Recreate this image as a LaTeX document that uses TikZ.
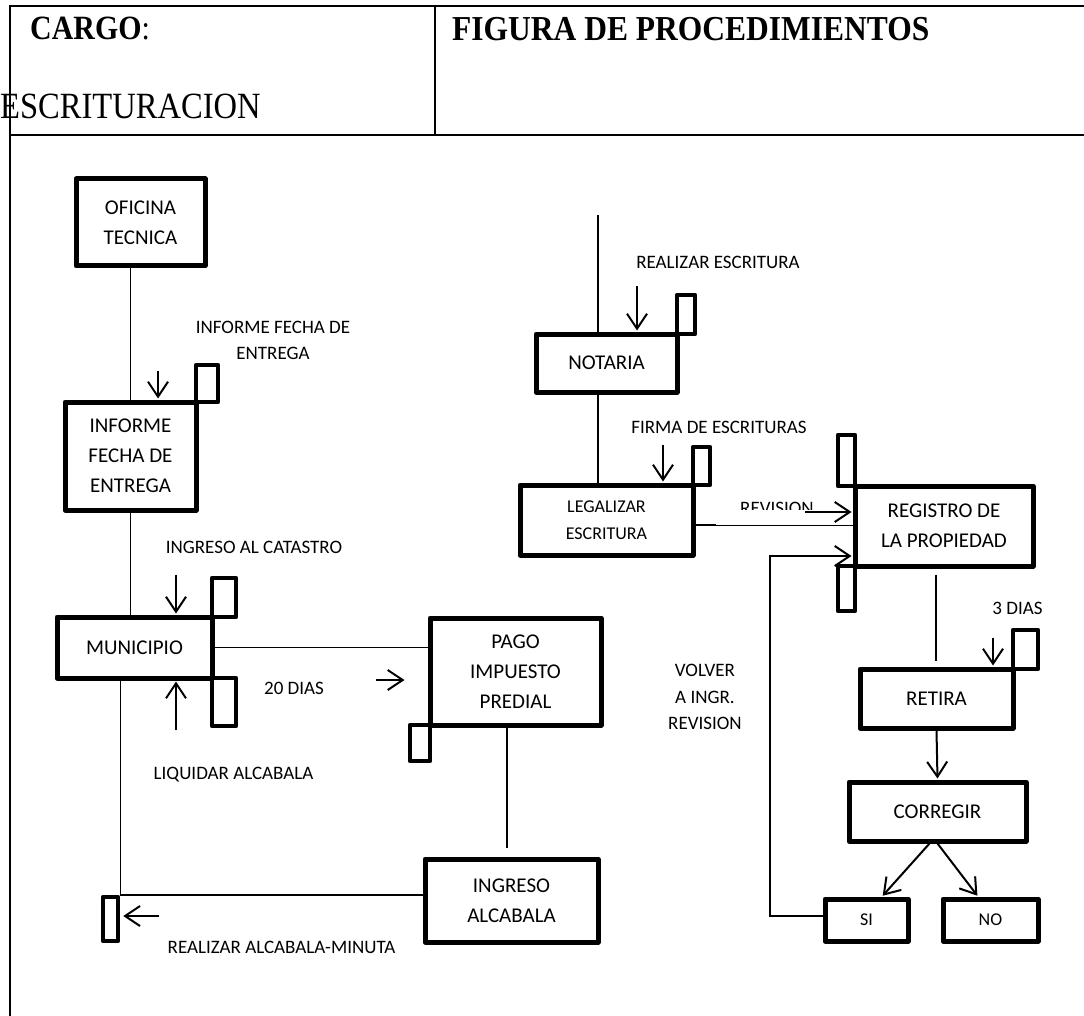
\documentclass[tikz,border=0pt]{standalone}
\usepackage{fontspec}
\setmainfont{Carlito}
\newfontfamily\hdrfont{Liberation Serif}
\usetikzlibrary{arrows.meta,calc}

\begin{document}
\begin{tikzpicture}[x=1pt,y=-1pt,
  box/.style={draw, line width=5pt, line join=round, inner sep=0pt, align=center,
              font=\fontsize{21}{30}\selectfont},
  smallbox/.style={box, font=\fontsize{18}{27}\selectfont},
  tab/.style={draw, line width=4.5pt, line join=round, inner sep=0pt},
  lbl/.style={align=center, inner sep=0pt, font=\fontsize{19}{26.5}\selectfont},
  hdr/.style={anchor=base west, inner sep=0pt},
  wire/.style={line width=1.5pt},
  frame/.style={line width=2.2pt},
  arr/.style={line width=2pt, shorten >=1pt, -{Straight Barb[length=15pt,width=20pt,line width=2pt]}},
]
\useasboundingbox (0,0) rectangle (1084,1016);

% page frame and header
\draw[frame] (10,1016) -- (10,6) -- (1084,6);
\draw[frame] (10,135) -- (1084,135);
\draw[frame] (435,6) -- (435,135);

\node[hdr] (cargo) at (30,40)
  {\hdrfont\fontsize{34}{34}\selectfont\scalebox{0.88}[1]{\textbf{CARGO}:}};
\node[hdr] (esc) at (0,119)
  {\hdrfont\fontsize{37}{37}\selectfont\scalebox{0.88}[1]{ESCRITURACION}};
\node[hdr] (fig) at (452,41)
  {\hdrfont\bfseries\fontsize{35}{35}\selectfont\scalebox{0.9}[1]{FIGURA DE PROCEDIMIENTOS}};

% process boxes
\node[box, minimum width=129pt, minimum height=87pt]  (ofi)    at (140.5,222.5) {OFICINA\\TECNICA};
\node[box, minimum width=131pt, minimum height=108pt] (inf)    at (130.5,456)   {INFORME\\FECHA DE\\ENTREGA};
\node[box, minimum width=155pt, minimum height=61pt]  (mun)    at (134.5,647.5) {MUNICIPIO};
\node[box, minimum width=171pt, minimum height=107pt] (pago)   at (515.5,671.5) {PAGO\\IMPUESTO\\PREDIAL};
\node[box, minimum width=173pt, minimum height=83pt]  (ingalc) at (511.5,900.5) {INGRESO\\ALCABALA};
\node[box, minimum width=141pt, minimum height=58pt]  (nota)   at (606.5,363)   {NOTARIA};
\node[smallbox, minimum width=173pt, minimum height=70pt] (legal) at (606.5,520) {LEGALIZAR\\ESCRITURA};
\node[box, minimum width=178pt, minimum height=80pt]  (reg)    at (944,526)     {REGISTRO DE\\LA PROPIEDAD};
\node[box, minimum width=153pt, minimum height=59pt]  (ret)    at (936.5,698.5) {RETIRA};
\node[box, minimum width=177pt, minimum height=59pt]  (corr)   at (937.5,811.5) {CORREGIR};
\node[smallbox, minimum width=83pt, minimum height=42pt] (si)  at (866.5,920)   {SI};
\node[smallbox, minimum width=95pt, minimum height=42pt] (no)  at (990.5,920)   {NO};

% small tabs on the boxes
\node[tab, minimum width=22pt, minimum height=37pt] (t1)  at (207,383.5) {};
\node[tab, minimum width=24pt, minimum height=39pt] (t2)  at (224,597.5) {};
\node[tab, minimum width=24pt, minimum height=48pt] (t3)  at (224,702)   {};
\node[tab, minimum width=20pt, minimum height=36pt] (t4)  at (420,743)   {};
\node[tab, minimum width=15pt, minimum height=44pt] (t5)  at (110.5,919) {};
\node[tab, minimum width=18pt, minimum height=39pt] (t6)  at (686,314.5) {};
\node[tab, minimum width=17pt, minimum height=38pt] (t7)  at (701.5,466) {};
\node[tab, minimum width=17pt, minimum height=51pt] (t8)  at (846.5,460.5) {};
\node[tab, minimum width=17pt, minimum height=45pt] (t9)  at (846.5,588.5) {};
\node[tab, minimum width=25pt, minimum height=39pt] (t10) at (1025.5,649.5) {};

% connecting lines
\draw[wire] (inf.north) -- (inf.north |- ofi.south);
\draw[wire] (inf.south) -- (inf.south |- mun.north);
\draw[wire] (mun.east) -- (mun.east -| pago.west);
\draw[wire] (t5.north east |- mun.south) -- (t5.north east) -- (t5.north east -| ingalc.west);
\draw[wire, shorten >=9pt] ([xshift=-8.5pt]pago.south) -- ([xshift=-8.5pt]pago.south |- ingalc.north);
\coordinate (ntop) at (598,215);
\draw[wire] (ntop) -- (ntop |- nota.north);
\draw[wire] (ntop |- nota.south) -- (ntop |- legal.north);
\draw[line width=1pt] ([yshift=-5pt]legal.east) -- ([yshift=-5pt]legal.east -| reg.west);
\draw[line width=2pt] ([yshift=-5pt]legal.east) -- ++(20,0);
\draw[wire, shorten <=6pt, shorten >=6pt] ([xshift=-8pt]reg.south) -- ([xshift=-8pt]reg.south |- ret.north);
\coordinate (back) at (770,0);
\draw[arr, line width=1.5pt] ([yshift=4pt]si.west) -- ([yshift=4pt]si.west -| back) |- ([yshift=-30pt]reg.west);

% flow arrows
\draw[arr] ($(inf.north)+(27.5,-29)$) -- ([xshift=27.5pt]inf.north);
\draw[arr] ($(mun.north)+(41.5,-40)$) -- ([xshift=41.5pt]mun.north);
\draw[arr] ($(mun.south)+(41.5,49)$) -- ([xshift=41.5pt]mun.south);
\draw[arr] ($(pago.west)+(-52,8.5)$) -- ($(pago.west)+(-22,8.5)$);
\draw[arr] ($(t5.east)+(39,-3)$) -- ($(t5.east)+(2,-3)$);
\draw[arr] ($(nota.north)+(30.5,-45)$) -- ([xshift=30.5pt]nota.north);
\draw[arr] ($(legal.north)+(56.5,-38)$) -- ([xshift=56.5pt]legal.north);
\draw[arr] ([yshift=14pt]reg.west) ++(-48,0) -- ([yshift=14pt]reg.west);
\draw[arr] ($(ret.north)+(56.5,-29)$) -- ([xshift=56.5pt]ret.north);
\draw[arr] (ret.south) -- (corr.north);
\draw[arr] ([xshift=-8pt]corr.south) -- ([xshift=15.5pt]si.north);
\draw[arr] (corr.south) -- ([xshift=-12.5pt]no.north);

% flow labels
\node[lbl] (l1) at (273,340.5) {INFORME FECHA DE\\ENTREGA};
\node[lbl] (l2) at (254,547) {INGRESO AL CATASTRO};
\node[lbl] (l3) at (294,688) {20 DIAS};
\node[lbl] (l4) at (233.5,775) {LIQUIDAR ALCABALA};
\node[lbl] (l5) at (281.5,947) {REALIZAR ALCABALA-MINUTA};
\node[lbl] (l6) at (718,262) {REALIZAR ESCRITURA};
\node[lbl] (l7) at (719,427) {FIRMA DE ESCRITURAS};
\node[lbl] (l8) at (1017.5,608) {3 DIAS};
\node[lbl] (l9) at (705,697) {VOLVER\\A INGR.\\REVISION};
\begin{scope}
  \clip (730,490) rectangle (830,509);
  \node[lbl, anchor=base] (l10) at (777,514) {REVISION};
\end{scope}
\end{tikzpicture}
\end{document}
